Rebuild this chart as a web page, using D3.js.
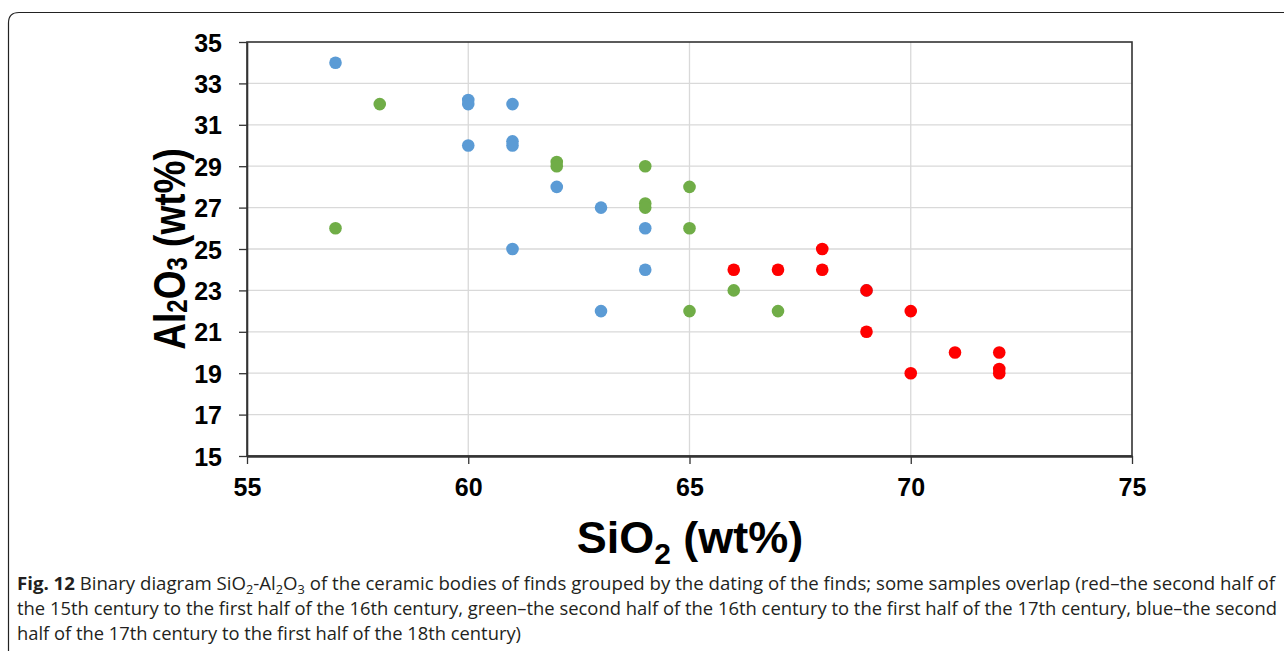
<!DOCTYPE html>
<html>
<head>
<meta charset="utf-8">
<script src="https://cdn.jsdelivr.net/npm/d3@7"></script>
<style>
  body { margin: 0; background: #fff; }
  svg { display: block; }
</style>
</head>
<body>
<svg id="chart" width="1284" height="651"></svg>
<script>
// values (SiO2, Al2O3 in wt%)
const blueX = [57, 60, 60, 61, 60, 61, 61, 62, 63, 64, 61, 64, 63, 69];
const blueY = [34, 32.2, 32, 32, 30, 30.2, 30, 28, 27, 26, 25, 24, 22, 23];
const greenX = [58, 57, 62, 62, 64, 65, 64, 64, 65, 66, 65, 67];
const greenY = [32, 26, 29.2, 29, 29, 28, 27.2, 27, 26, 23, 22, 22];
const redX = [66, 67, 68, 68, 69, 69, 70, 70, 71, 72, 72, 72];
const redY = [24, 24, 25, 24, 23, 21, 22, 19, 20, 20, 19.2, 19];

const xTicks = [55, 60, 65, 70, 75];
const yTicks = [15, 17, 19, 21, 23, 25, 27, 29, 31, 33, 35];

const series = [
  { name: "blue", color: "#5b9bd5", xs: blueX, ys: blueY },
  { name: "green", color: "#70ad47", xs: greenX, ys: greenY },
  { name: "red", color: "#ff0000", xs: redX, ys: redY }
];

const svg = d3.select("#chart");

// outer panel border (rounded corner, open to the right/bottom)
svg.append("path")
  .attr("d", "M8.5,651 L8.5,23 Q8.5,12.5 19,12.5 L1284,12.5")
  .attr("fill", "none")
  .attr("stroke", "#222")
  .attr("stroke-width", 1.2);

const pL = 247, pR = 1132, pT = 42, pB = 456;
const x = d3.scaleLinear().domain([55, 75]).range([pL, pR]);
const y = d3.scaleLinear().domain([15, 35]).range([pB, pT]);

// gridlines
svg.append("g").selectAll("line")
  .data(yTicks.slice(1, -1))
  .join("line")
  .attr("x1", pL).attr("x2", pR)
  .attr("y1", d => y(d)).attr("y2", d => y(d))
  .attr("stroke", "#d9d9d9").attr("stroke-width", 1.3);
svg.append("g").selectAll("line")
  .data(xTicks.slice(1, -1))
  .join("line")
  .attr("x1", d => x(d)).attr("x2", d => x(d))
  .attr("y1", pT).attr("y2", pB)
  .attr("stroke", "#d9d9d9").attr("stroke-width", 1.3);

// frame
svg.append("rect")
  .attr("x", pL).attr("y", pT)
  .attr("width", pR - pL).attr("height", pB - pT)
  .attr("fill", "none").attr("stroke", "#333").attr("stroke-width", 1.6);

// axes
const yAxis = svg.append("g")
  .attr("transform", `translate(${pL},0)`)
  .call(d3.axisLeft(y).tickValues(yTicks).tickSize(8).tickPadding(17).tickSizeOuter(0));
const xAxis = svg.append("g")
  .attr("transform", `translate(0,${pB})`)
  .call(d3.axisBottom(x).tickValues(xTicks).tickSize(8).tickPadding(14).tickSizeOuter(0));

[yAxis, xAxis].forEach(g => {
  g.select(".domain").attr("stroke", "#333").attr("stroke-width", 1.6);
  g.selectAll(".tick line").attr("stroke", "#333").attr("stroke-width", 1.3);
  g.selectAll(".tick text")
    .attr("fill", "#000")
    .style("font-family", "'Liberation Sans', Arial, sans-serif")
    .style("font-weight", "bold")
    .style("font-size", "25px");
});
xAxis.select(".domain").attr("stroke-width", 2.5);
yAxis.selectAll(".tick text").attr("dy", "0.36em");

// points
series.forEach(s => {
  svg.append("g").attr("class", s.name)
    .selectAll("circle")
    .data(s.xs.map((v, i) => [v, s.ys[i]]))
    .join("circle")
    .attr("cx", d => x(d[0]))
    .attr("cy", d => y(d[1]))
    .attr("r", 6.3)
    .attr("fill", s.color);
});

// axis titles
const titleFont = "'Liberation Sans', Arial, sans-serif";
const xt = svg.append("text")
  .attr("x", 690).attr("y", 553)
  .attr("text-anchor", "middle")
  .style("font-family", titleFont).style("font-weight", "bold").style("font-size", "45px");
xt.append("tspan").text("SiO");
xt.append("tspan").attr("dy", 11).style("font-size", "30px").text("2");
xt.append("tspan").attr("dy", -11).text(" (wt%)");

const yt = svg.append("text")
  .attr("transform", "translate(185,249) rotate(-90) scale(1,1.2)")
  .attr("text-anchor", "middle")
  .style("font-family", titleFont).style("font-weight", "bold").style("font-size", "37px");
yt.append("tspan").text("Al");
yt.append("tspan").attr("dy", 2).style("font-size", "24px").text("2");
yt.append("tspan").attr("dy", -2).text("O");
yt.append("tspan").attr("dy", 2).style("font-size", "24px").text("3");
yt.append("tspan").attr("dy", -2).text(" (wt%)");

// caption
const capFont = "'Open Sans', 'Noto Sans', sans-serif";
const cap = svg.append("g")
  .style("font-family", capFont).style("font-size", "17.5px").attr("fill", "#231f20");
const l1 = cap.append("text").attr("x", 17).attr("y", 590)
  .attr("textLength", 1258).attr("lengthAdjust", "spacingAndGlyphs");
l1.append("tspan").style("font-weight", "bold").text("Fig. 12");
l1.append("tspan").text("  Binary diagram SiO");
l1.append("tspan").attr("dy", 4).style("font-size", "12px").text("2");
l1.append("tspan").attr("dy", -4).text("-Al");
l1.append("tspan").attr("dy", 4).style("font-size", "12px").text("2");
l1.append("tspan").attr("dy", -4).text("O");
l1.append("tspan").attr("dy", 4).style("font-size", "12px").text("3");
l1.append("tspan").attr("dy", -4).text(" of the ceramic bodies of finds grouped by the dating of the finds; some samples overlap (red\u2013the second half of");
cap.append("text").attr("x", 17).attr("y", 615)
  .attr("textLength", 1260).attr("lengthAdjust", "spacingAndGlyphs")
  .text("the 15th century to the first half of the 16th century, green\u2013the second half of the 16th century to the first half of the 17th century, blue\u2013the second");
cap.append("text").attr("x", 17).attr("y", 640)
  .attr("textLength", 504).attr("lengthAdjust", "spacingAndGlyphs")
  .text("half of the 17th century to the first half of the 18th century)");
</script>
</body>
</html>
